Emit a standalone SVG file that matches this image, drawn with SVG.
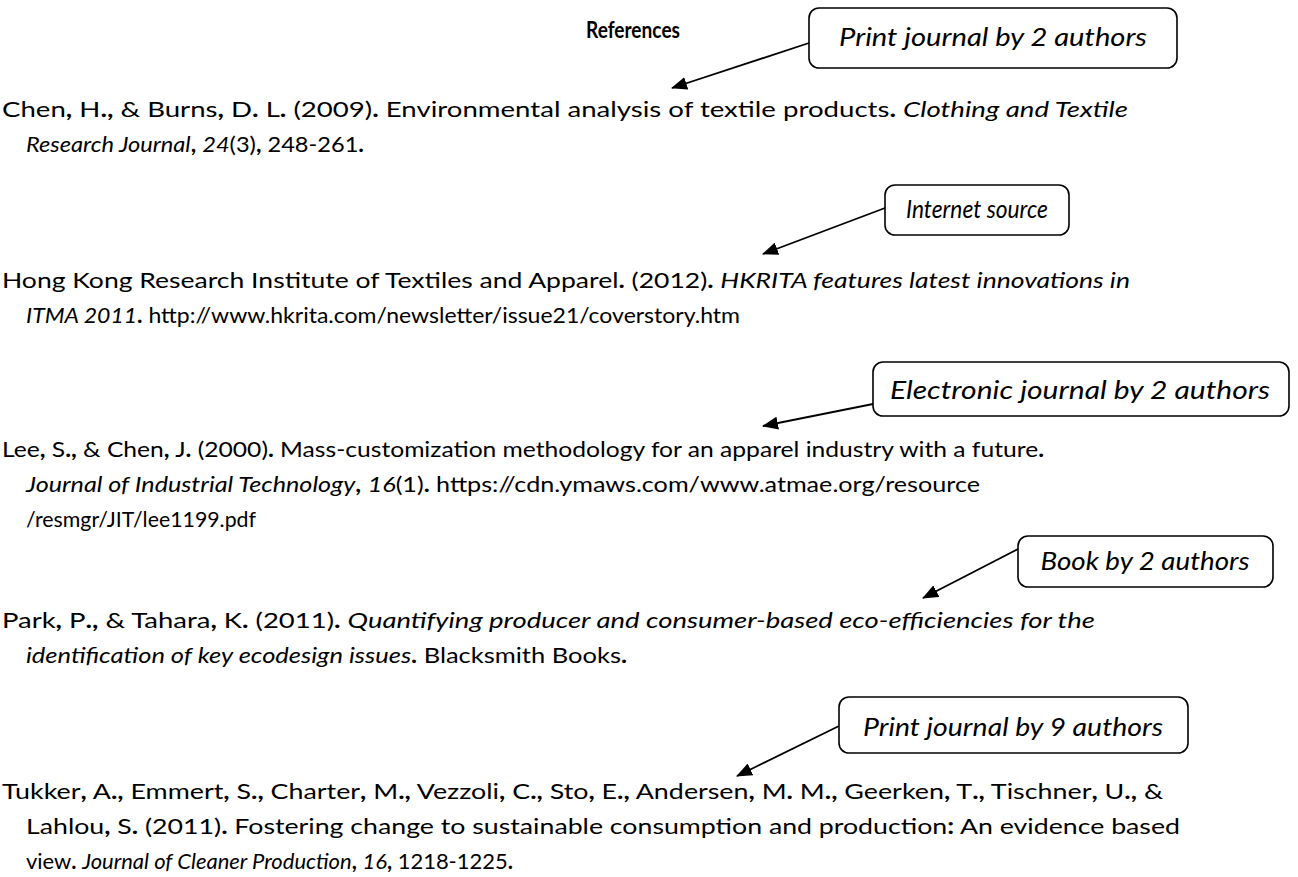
<svg xmlns="http://www.w3.org/2000/svg" width="1298" height="877" viewBox="0 0 1298 877">
<style>
text{font-family:Lato,"Open Sans","Liberation Sans",sans-serif;font-size:22px;fill:#000}
.t{font-weight:bold;font-size:22px}
.b{font-weight:bold}
.i{font-style:italic}
.lbl{font-style:italic;text-anchor:middle;font-size:24.5px}
.box{fill:#fff;stroke:#000;stroke-width:1.6}
.con{stroke:#000;stroke-width:1.8;fill:none;marker-end:url(#ah)}
</style>
<defs>
<marker id="ah" viewBox="0 0 16 13" refX="15" refY="6.5" markerWidth="16" markerHeight="13" markerUnits="userSpaceOnUse" orient="auto">
<path d="M0,0 L16,6.5 L0,13 Z" fill="#000"/>
</marker>
</defs>
<rect width="1298" height="877" fill="#fff"/>
<text class="t" x="586" y="38" textLength="94" lengthAdjust="spacingAndGlyphs">References</text>
<g id="refs">
<text x="2" y="117" textLength="1126" lengthAdjust="spacingAndGlyphs">Chen<tspan class="b">,</tspan> H<tspan class="b">.,</tspan> &amp; Burns<tspan class="b">,</tspan> D<tspan class="b">.</tspan> L<tspan class="b">.</tspan> (2009)<tspan class="b">.</tspan> Environmental analysis of textile products<tspan class="b">.</tspan> <tspan class="i">Clothing and Textile</tspan></text>
<text x="26" y="152" textLength="338" lengthAdjust="spacingAndGlyphs"><tspan class="i">Research Journal</tspan><tspan class="b">,</tspan> <tspan class="i">24</tspan>(3)<tspan class="b">,</tspan> 248-261<tspan class="b">.</tspan></text>
<text x="2" y="288" textLength="1128" lengthAdjust="spacingAndGlyphs">Hong Kong Research Institute of Textiles and Apparel<tspan class="b">.</tspan> (2012)<tspan class="b">.</tspan> <tspan class="i">HKRITA features latest innovations in</tspan></text>
<text x="26" y="323" textLength="714" lengthAdjust="spacingAndGlyphs"><tspan class="i">ITMA 2011</tspan><tspan class="b">.</tspan> http://www.hkrita.com/newsletter/issue21/coverstory.htm</text>
<text x="2" y="457" textLength="1042" lengthAdjust="spacingAndGlyphs">Lee<tspan class="b">,</tspan> S<tspan class="b">.,</tspan> &amp; Chen<tspan class="b">,</tspan> J<tspan class="b">.</tspan> (2000)<tspan class="b">.</tspan> Mass-customization methodology for an apparel industry with a future<tspan class="b">.</tspan></text>
<text x="26" y="492" textLength="954" lengthAdjust="spacingAndGlyphs"><tspan class="i">Journal of Industrial Technology</tspan><tspan class="b">,</tspan> <tspan class="i">16</tspan>(1)<tspan class="b">.</tspan> https://cdn.ymaws.com/www.atmae.org/resource</text>
<text x="26" y="527" textLength="230" lengthAdjust="spacingAndGlyphs">/resmgr/JIT/lee1199.pdf</text>
<text x="2" y="628" textLength="1093" lengthAdjust="spacingAndGlyphs">Park<tspan class="b">,</tspan> P<tspan class="b">.,</tspan> &amp; Tahara<tspan class="b">,</tspan> K<tspan class="b">.</tspan> (2011)<tspan class="b">.</tspan> <tspan class="i">Quantifying producer and consumer-based eco-efficiencies for the</tspan></text>
<text x="26" y="663" textLength="601" lengthAdjust="spacingAndGlyphs"><tspan class="i">identification of key ecodesign issues</tspan><tspan class="b">.</tspan> Blacksmith Books<tspan class="b">.</tspan></text>
<text x="2" y="799" textLength="1161" lengthAdjust="spacingAndGlyphs">Tukker<tspan class="b">,</tspan> A<tspan class="b">.,</tspan> Emmert<tspan class="b">,</tspan> S<tspan class="b">.,</tspan> Charter<tspan class="b">,</tspan> M<tspan class="b">.,</tspan> Vezzoli<tspan class="b">,</tspan> C<tspan class="b">.,</tspan> Sto<tspan class="b">,</tspan> E<tspan class="b">.,</tspan> Andersen<tspan class="b">,</tspan> M<tspan class="b">.</tspan> M<tspan class="b">.,</tspan> Geerken<tspan class="b">,</tspan> T<tspan class="b">.,</tspan> Tischner<tspan class="b">,</tspan> U<tspan class="b">.,</tspan> &amp;</text>
<text x="26" y="834" textLength="1154" lengthAdjust="spacingAndGlyphs">Lahlou<tspan class="b">,</tspan> S<tspan class="b">.</tspan> (2011)<tspan class="b">.</tspan> Fostering change to sustainable consumption and production<tspan class="b">:</tspan> An evidence based</text>
<text x="26" y="869" textLength="487" lengthAdjust="spacingAndGlyphs">view<tspan class="b">.</tspan> <tspan class="i">Journal of Cleaner Production</tspan><tspan class="b">,</tspan> <tspan class="i">16</tspan><tspan class="b">,</tspan> 1218-1225<tspan class="b">.</tspan></text>
</g>
<g id="connectors">
<line class="con" x1="809" y1="43" x2="672" y2="88"/>
<line class="con" x1="885" y1="208" x2="763" y2="254"/>
<line class="con" x1="873" y1="404" x2="763" y2="426"/>
<line class="con" x1="1018" y1="549" x2="923" y2="598"/>
<line class="con" x1="839" y1="726" x2="737" y2="776"/>
</g>
<g id="n1"><rect class="box" x="809" y="8" width="368" height="60" rx="10"/><text class="lbl" x="993" y="46" textLength="308" lengthAdjust="spacingAndGlyphs">Print journal by 2 authors</text></g>
<g id="n2"><rect class="box" x="885" y="185" width="184" height="50" rx="10"/><text class="lbl" x="977" y="218" textLength="142" lengthAdjust="spacingAndGlyphs">Internet source</text></g>
<g id="n3"><rect class="box" x="873" y="362" width="416" height="54" rx="10"/><text class="lbl" x="1080" y="399" textLength="380" lengthAdjust="spacingAndGlyphs">Electronic journal by 2 authors</text></g>
<g id="n4"><rect class="box" x="1018" y="536" width="255" height="51" rx="10"/><text class="lbl" x="1145" y="570" textLength="209" lengthAdjust="spacingAndGlyphs">Book by 2 authors</text></g>
<g id="n5"><rect class="box" x="839" y="697" width="349" height="56" rx="10"/><text class="lbl" x="1013" y="736" textLength="300" lengthAdjust="spacingAndGlyphs">Print journal by 9 authors</text></g>
</svg>
